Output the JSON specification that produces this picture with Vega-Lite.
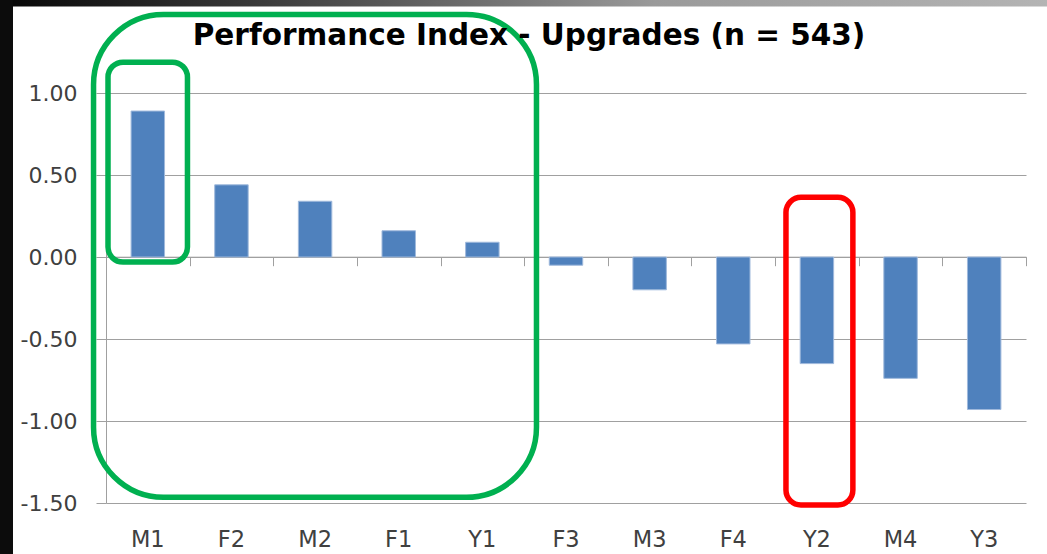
{
  "$schema": "https://vega.github.io/schema/vega-lite/v6.json",
  "width": 920,
  "height": 410,
  "autosize": {"type": "none"},
  "padding": {"left": 106, "top": 93, "right": 21, "bottom": 51},
  "background": "#ffffff",
  "title": {
    "text": "Performance Index - Upgrades (n = 543)",
    "font": "DejaVu Sans",
    "fontSize": 29.5,
    "fontWeight": "bold",
    "color": "#000000",
    "anchor": "middle",
    "offset": -52,
    "dx": -37
  },
  "config": {
    "view": {"stroke": null},
    "font": "DejaVu Sans",
    "axisY": {
      "title": null,
      "grid": true,
      "gridColor": "#a0a0a0",
      "gridWidth": 1,
      "domain": true,
      "domainColor": "#a0a0a0",
      "ticks": true,
      "tickColor": "#a0a0a0",
      "tickSize": 10,
      "labelFont": "DejaVu Sans",
      "labelFontSize": 22,
      "labelColor": "#404040",
      "labelPadding": 19
    }
  },
  "datasets": {
    "perf": [
      {"group": "M1", "value": 0.89},
      {"group": "F2", "value": 0.44},
      {"group": "M2", "value": 0.34},
      {"group": "F1", "value": 0.16},
      {"group": "Y1", "value": 0.09},
      {"group": "F3", "value": -0.05},
      {"group": "M3", "value": -0.20},
      {"group": "F4", "value": -0.53},
      {"group": "Y2", "value": -0.65},
      {"group": "M4", "value": -0.74},
      {"group": "Y3", "value": -0.93}
    ],
    "notes": [
      {"shape": "big", "colour": "green", "x1": -0.149, "x2": 5.147, "y1": 1.479, "y2": -1.465},
      {"shape": "small", "colour": "green", "x1": 0.024, "x2": 0.974, "y1": 1.188, "y2": -0.031},
      {"shape": "small", "colour": "red", "x1": 8.13, "x2": 8.93, "y1": 0.364, "y2": -1.512}
    ],
    "frame": [
      {"part": "top", "x1": -1.6, "x2": 12, "y1": 1.527, "y2": 1.569},
      {"part": "left", "x1": -1.6, "x2": -1.112, "y1": -2.2, "y2": 1.569}
    ]
  },
  "resolve": {"scale": {"x": "independent"}, "axis": {"x": "independent"}},
  "layer": [
    {
      "data": {"name": "perf"},
      "mark": {"type": "bar", "color": "#4f81bd", "stroke": "#9fb9dc", "strokeWidth": 1},
      "encoding": {
        "x": {
          "field": "group",
          "type": "nominal",
          "sort": null,
          "scale": {"paddingInner": 0.6, "paddingOuter": 0.3},
          "axis": {
            "orient": "bottom",
            "title": null,
            "domain": false,
            "ticks": false,
            "tickSize": 0,
            "grid": false,
            "labelAngle": 0,
            "labelFont": "DejaVu Sans",
            "labelFontSize": 22.5,
            "labelColor": "#404040",
            "labelPadding": 25
          }
        },
        "y": {
          "field": "value",
          "type": "quantitative",
          "scale": {"domain": [-1.5, 1], "nice": false},
          "axis": {
            "title": null,
            "values": [-1.5, -1, -0.5, 0, 0.5, 1],
            "labelExpr": "replace(format(datum.value, '.2f'), '\u2212', '-')"
          }
        }
      }
    },
    {
      "data": {"name": "perf"},
      "mark": {"type": "bar", "opacity": 0},
      "encoding": {
        "x": {
          "field": "group",
          "type": "nominal",
          "sort": null,
          "scale": {"paddingInner": 0, "paddingOuter": 0},
          "axis": {
            "orient": "bottom",
            "offset": -246.3,
            "title": null,
            "labels": false,
            "grid": false,
            "domain": true,
            "domainColor": "#a0a0a0",
            "ticks": true,
            "tickColor": "#a0a0a0",
            "tickSize": 9,
            "tickBand": "extent"
          }
        }
      }
    },
    {
      "data": {"name": "notes"},
      "transform": [{"filter": "datum.shape === 'big'"}],
      "mark": {"type": "rect", "fill": null, "fillOpacity": 0, "stroke": "#00b050", "strokeWidth": 5.5, "cornerRadius": 70},
      "encoding": {
        "x": {"field": "x1", "type": "quantitative", "scale": {"domain": [0, 11], "nice": false, "zero": false}, "axis": null},
        "x2": {"field": "x2"},
        "y": {
          "field": "y1",
          "type": "quantitative",
          "scale": {"domain": [-1.5, 1], "nice": false},
          "axis": {
            "title": null,
            "values": [-1.5, -1, -0.5, 0, 0.5, 1],
            "labelExpr": "replace(format(datum.value, '.2f'), '\u2212', '-')"
          }
        },
        "y2": {"field": "y2"}
      }
    },
    {
      "data": {"name": "notes"},
      "transform": [{"filter": "datum.shape === 'small'"}],
      "mark": {"type": "rect", "fill": null, "fillOpacity": 0, "strokeWidth": 5.5, "cornerRadius": 15},
      "encoding": {
        "x": {"field": "x1", "type": "quantitative", "scale": {"domain": [0, 11], "nice": false, "zero": false}, "axis": null},
        "x2": {"field": "x2"},
        "y": {
          "field": "y1",
          "type": "quantitative",
          "scale": {"domain": [-1.5, 1], "nice": false},
          "axis": {
            "title": null,
            "values": [-1.5, -1, -0.5, 0, 0.5, 1],
            "labelExpr": "replace(format(datum.value, '.2f'), '\u2212', '-')"
          }
        },
        "y2": {"field": "y2"},
        "stroke": {"field": "colour", "type": "nominal", "scale": {"domain": ["green", "red"], "range": ["#00b050", "#ff0000"]}, "legend": null}
      }
    },
    {
      "data": {"name": "frame"},
      "transform": [{"filter": "datum.part === 'top'"}],
      "mark": {
        "type": "rect",
        "fill": {
          "gradient": "linear",
          "x1": 0, "y1": 0, "x2": 1, "y2": 0,
          "stops": [
            {"offset": 0, "color": "#000000"},
            {"offset": 0.25, "color": "#3a3a3a"},
            {"offset": 0.6, "color": "#9a9a9a"},
            {"offset": 1, "color": "#b8b8b8"}
          ]
        }
      },
      "encoding": {
        "x": {"field": "x1", "type": "quantitative", "scale": {"domain": [0, 11], "nice": false, "zero": false}, "axis": null},
        "x2": {"field": "x2"},
        "y": {
          "field": "y1",
          "type": "quantitative",
          "scale": {"domain": [-1.5, 1], "nice": false},
          "axis": {
            "title": null,
            "values": [-1.5, -1, -0.5, 0, 0.5, 1],
            "labelExpr": "replace(format(datum.value, '.2f'), '\u2212', '-')"
          }
        },
        "y2": {"field": "y2"}
      }
    },
    {
      "data": {"name": "frame"},
      "transform": [{"filter": "datum.part === 'left'"}],
      "mark": {"type": "rect", "fill": "#0c0c0c"},
      "encoding": {
        "x": {"field": "x1", "type": "quantitative", "scale": {"domain": [0, 11], "nice": false, "zero": false}, "axis": null},
        "x2": {"field": "x2"},
        "y": {
          "field": "y1",
          "type": "quantitative",
          "scale": {"domain": [-1.5, 1], "nice": false},
          "axis": {
            "title": null,
            "values": [-1.5, -1, -0.5, 0, 0.5, 1],
            "labelExpr": "replace(format(datum.value, '.2f'), '\u2212', '-')"
          }
        },
        "y2": {"field": "y2"}
      }
    }
  ]
}
